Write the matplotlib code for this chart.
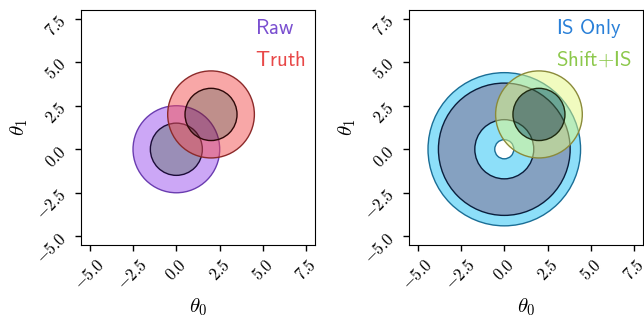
import matplotlib
matplotlib.use('Agg')
import matplotlib.pyplot as plt
from matplotlib.patches import Wedge, Circle
from matplotlib.ticker import FormatStrFormatter

plt.rcParams['mathtext.fontset'] = 'cm'

# contour data: centre and confidence-region radii (68%, 95%)
raw_center = (0.0, 0.0)
raw_radii = [1.5, 2.5]
truth_center = (2.0, 2.0)
truth_radii = [1.5, 2.5]
shift_center = (2.0, 2.0)
shift_radii = [1.5, 2.5]
# IS only is a ring: hole, inner 68% edge, outer 68% edge, outer 95% edge
is_center = (0.0, 0.0)
is_radii = [0.55, 1.7, 3.8, 4.4]

ticks = [-5.0, -2.5, 0.0, 2.5, 5.0, 7.5]
lims = (-5.5, 8.0)

# fill light, fill dark, edge outer, edge inner, label colour
raw_style = ('#9b51ef', '#371f71', '#6a3cb0', '#1c0c38', '#7a4fd0')
truth_style = ('#f35151', '#812119', '#8c2a2a', '#2e0808', '#e84848')
is_style = ('#1dc1f5', '#0d4585', '#1a6e96', '#0a1e3c', '#2a80d8')
shift_style = ('#e5f981', '#4a6e32', '#8a8a3a', '#1e2a10', '#8cc84b')


def blob(ax, c, radii, st):
    r1, r2 = radii
    ax.add_patch(Wedge(c, r2, 0, 360, width=r2 - r1, facecolor=st[0], alpha=0.5, lw=0))
    ax.add_patch(Circle(c, r1, facecolor=st[1], alpha=0.5, lw=0))
    ax.add_patch(Circle(c, r2, fill=False, edgecolor=st[2], lw=1.0))
    ax.add_patch(Circle(c, r1, fill=False, edgecolor=st[3], lw=1.0))


def ring(ax, c, radii, st):
    r0, r1, r2, r3 = radii
    ax.add_patch(Wedge(c, r1, 0, 360, width=r1 - r0, facecolor=st[0], alpha=0.5, lw=0))
    ax.add_patch(Wedge(c, r2, 0, 360, width=r2 - r1, facecolor=st[1], alpha=0.5, lw=0))
    ax.add_patch(Wedge(c, r3, 0, 360, width=r3 - r2, facecolor=st[0], alpha=0.5, lw=0))
    ax.add_patch(Circle(c, r3, fill=False, edgecolor=st[2], lw=1.0))
    ax.add_patch(Circle(c, r0, fill=False, edgecolor=st[2], lw=1.0))
    ax.add_patch(Circle(c, r1, fill=False, edgecolor=st[3], lw=1.0))
    ax.add_patch(Circle(c, r2, fill=False, edgecolor=st[3], lw=1.0))


def setup(ax):
    ax.set_xlim(lims)
    ax.set_ylim(lims)
    ax.set_xticks(ticks)
    ax.set_yticks(ticks)
    ax.xaxis.set_major_formatter(FormatStrFormatter(r'$%.1f$'))
    ax.yaxis.set_major_formatter(FormatStrFormatter(r'$%.1f$'))
    ax.tick_params(labelsize=12, length=4, width=1)
    for lab in ax.get_xticklabels() + ax.get_yticklabels():
        lab.set_rotation(45)
    ax.set_xlabel(r'$\theta_0$', fontsize=15, labelpad=2)
    ax.set_ylabel(r'$\theta_1$', fontsize=15, labelpad=2)


fig = plt.figure(figsize=(6.44, 3.18), dpi=100)
ax1 = fig.add_axes([0.1258, 0.2296, 0.3634, 0.739])
ax2 = fig.add_axes([0.635, 0.2296, 0.3634, 0.739])

blob(ax1, raw_center, raw_radii, raw_style)
blob(ax1, truth_center, truth_radii, truth_style)
setup(ax1)
ax1.text(0.744, 0.923, r'$\mathsf{Raw}$', color=raw_style[4], fontsize=15,
         va='center', transform=ax1.transAxes)
ax1.text(0.744, 0.787, r'$\mathsf{Truth}$', color=truth_style[4], fontsize=15,
         va='center', transform=ax1.transAxes)

ring(ax2, is_center, is_radii, is_style)
blob(ax2, shift_center, shift_radii, shift_style)
setup(ax2)
ax2.text(0.628, 0.923, r'$\mathsf{IS\ Only}$', color=is_style[4], fontsize=15,
         va='center', transform=ax2.transAxes)
ax2.text(0.628, 0.787, r'$\mathsf{Shift{+}IS}$', color=shift_style[4], fontsize=15,
         va='center', transform=ax2.transAxes)

fig.savefig('out.png', dpi=100)
